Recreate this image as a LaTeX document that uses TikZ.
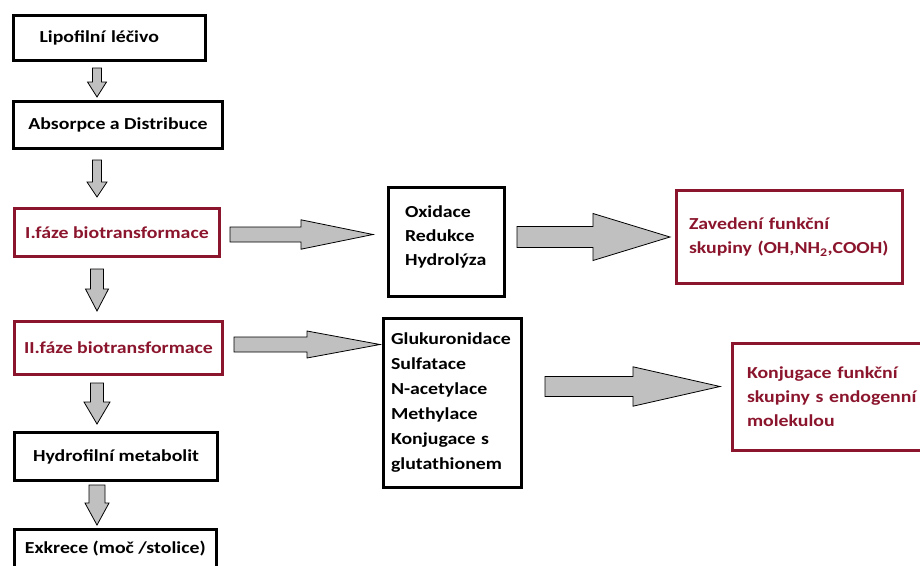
\documentclass[tikz,border=0pt]{standalone}
\usepackage{fontspec}
\setmainfont{Carlito}[FakeStretch=1.18]
\usepackage{xcolor}
\usetikzlibrary{calc}

\definecolor{darkred}{RGB}{139,21,45}
\definecolor{arrowgray}{RGB}{192,192,192}

\tikzset{
  box/.style={draw=black, line width=3pt, fill=white, inner sep=0pt,
    text=black, font={\fontsize{16.8}{24}\selectfont\bfseries}},
  redbox/.style={box, draw=darkred, text=darkred},
  blockarrow/.style={draw=black, line width=0.8pt, fill=arrowgray, line join=miter}
}

% block arrow pointing down: start, tip, shaft half width, head half width, head length
\newcommand{\downblock}[5]{%
  \draw[blockarrow] let \p1=#1, \p2=#2 in
    (\x1-#3,\y1) -- (\x1+#3,\y1) -- (\x1+#3,\y2+#5) -- (\x1+#4,\y2+#5)
    -- (\x1,\y2) -- (\x1-#4,\y2+#5) -- (\x1-#3,\y2+#5) -- cycle;}
% block arrow pointing right: start, tip, shaft half width, head half width, head length
\newcommand{\rightblock}[5]{%
  \draw[blockarrow] let \p1=#1, \p2=#2 in
    (\x1,\y2+#3) -- (\x2-#5,\y2+#3) -- (\x2-#5,\y2+#4) -- (\x2,\y2)
    -- (\x2-#5,\y2-#4) -- (\x2-#5,\y2-#3) -- (\x1,\y2-#3) -- cycle;}

\begin{document}
\begin{tikzpicture}[x=1pt,y=-1pt]
    \useasboundingbox (0,0) rectangle (920,565);
    \clip (0,0) rectangle (920,565);
    \fill[white] (0,0) rectangle (920,565);

    % Left column of steps
    \node[box, minimum width=192pt, minimum height=45pt, text width=140pt, align=left] (lipo) at (109.5,38) {Lipofilní léčivo};
    \node[box, minimum width=209pt, minimum height=47pt] (abs) at (118,125) {Absorpce a Distribuce};
    \node[redbox, minimum width=205pt, minimum height=48pt] (faze1) at (117,232.5) {I.fáze biotransformace};
    \node[redbox, minimum width=208pt, minimum height=53pt] (faze2) at (118.5,348) {II.fáze biotransformace};
    \node[box, minimum width=203.6pt, minimum height=48pt] (hydro) at (116,456.5) {Hydrofilní metabolit};
    \node[box, minimum width=202.3pt, minimum height=37.5pt] (exkrece) at (115.3,548.3) {Exkrece (moč /stolice)};

    % Reactions of phase I and II
    \node[box, minimum width=116pt, minimum height=109pt, text width=83pt, text depth=60pt, align=left] (reakce1) at (446.5,242)
        {Oxidace\\Redukce\\Hydrolýza};
    \node[box, minimum width=138pt, minimum height=169pt, text width=123pt, align=left,
        font={\fontsize{16.8}{25}\selectfont\bfseries}] (reakce2) at (452.5,403)
        {Glukuronidace\\Sulfatace\\N-acetylace\\Methylace\\Konjugace s\\glutathionem};

    % Results on the right
    \node[redbox, minimum width=226pt, minimum height=93pt, text width=201pt, align=left] (zavedeni) at (789.5,237)
        {Zavedení funkční\\skupiny (OH,NH\textsubscript{2},COOH)};
    \node[redbox, minimum width=206pt, minimum height=107pt, text width=177pt, align=left] (konjugace) at (835.5,397)
        {Konjugace funkční\\skupiny s endogenní\\molekulou};

    % Down arrows between the steps
    \coordinate (ax) at (97,0);
    \downblock{($(lipo.south -| ax)+(0,6)$)}{($(abs.north -| ax)+(0,-3)$)}{4.5}{9.5}{15}
    \downblock{($(abs.south -| ax)+(0,10)$)}{($(faze1.north -| ax)+(0,-10)$)}{4.5}{10}{15}
    \downblock{($(faze1.south -| ax)+(0,11)$)}{($(faze2.north -| ax)+(0,-9)$)}{6.5}{11.5}{22}
    \downblock{($(faze2.south -| ax)+(0,7)$)}{($(hydro.north -| ax)+(0,-7)$)}{6.5}{13}{22}
    \downblock{($(hydro.south -| ax)+(0,3)$)}{($(exkrece.north -| ax)+(0,-3)$)}{8}{12}{22}

    % Right arrows
    \rightblock{($(faze1.east)+(9,0)$)}{($(reakce1.west |- faze1.east)+(-14,2)$)}{7.5}{14.7}{72}
    \rightblock{($(reakce1.east)+(11,0)$)}{($(zavedeni.west)+(-5,0)$)}{10.5}{23.5}{77}
    \rightblock{($(faze2.east)+(10,0)$)}{($(reakce2.west |- faze2.east)+(-2,-3.5)$)}{7.5}{13.5}{73}
    \rightblock{($(reakce2.east)+(22,0)$)}{($(konjugace.west)+(-11,-10.5)$)}{10}{19.7}{87}
\end{tikzpicture}
\end{document}
